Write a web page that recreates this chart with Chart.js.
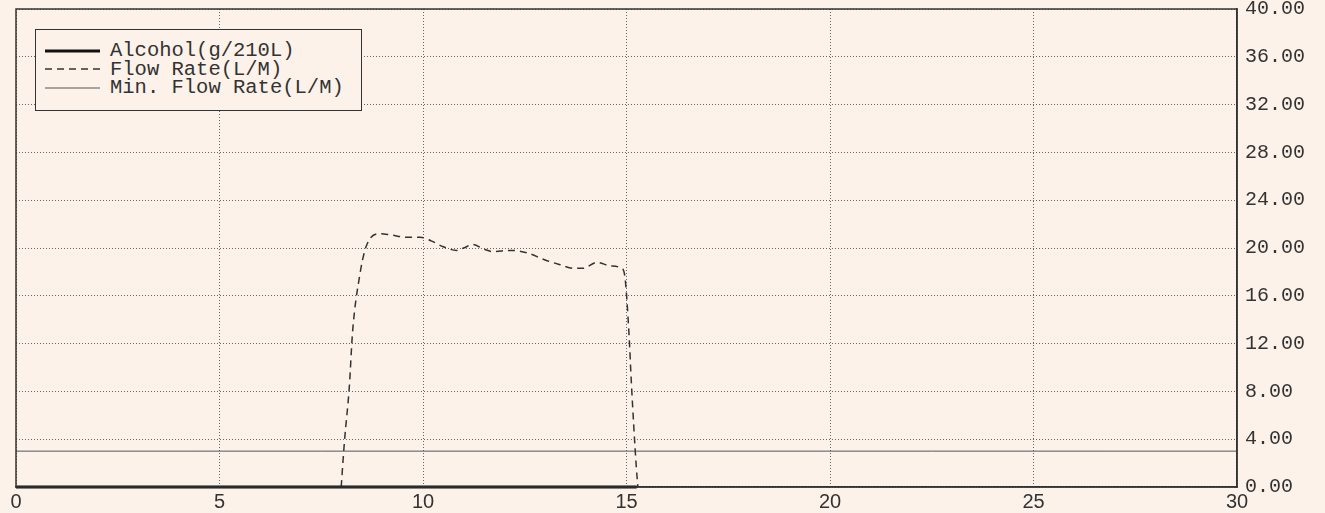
<!DOCTYPE html>
<html>
<head>
<meta charset="utf-8">
<script src="https://cdn.jsdelivr.net/npm/chart.js@4"></script>
<style>
  body { margin: 0; background: #fcf2e9; }
  #wrap { position: relative; width: 1325px; height: 513px; }
  #legend {
    position: absolute; left: 35px; top: 29px; width: 327px; height: 82px;
    box-sizing: border-box; border: 1.5px solid #333; background: #fcf2e9;
    padding: 12px 0 0 9px; font-family: "Liberation Mono", monospace;
    font-size: 20.5px; color: #333;
  }
  #legend div { height: 18.5px; line-height: 18.5px; white-space: nowrap; }
  #legend svg { vertical-align: middle; margin-right: 10px; }
</style>
</head>
<body>
<div id="wrap">
  <canvas id="c"></canvas>
  <div id="legend"></div>
</div>
<script>
// seconds
const flowX = [7.99, 8.07, 8.19, 8.27, 8.44, 8.6, 8.93, 9.2, 9.6, 9.93, 10.2, 10.5, 10.83, 11.0, 11.23, 11.5,
  11.72, 12.14, 12.55, 13.0, 13.37, 13.7, 13.93, 14.27, 14.6, 14.88, 14.96, 15.06, 15.12, 15.24, 15.28];
const flowY = [0.0, 3.8, 8.4, 13.0, 17.6, 20.1, 21.2, 21.1, 20.9, 20.9, 20.6, 20.1, 19.8, 20.0, 20.3, 19.9,
  19.7, 19.8, 19.6, 19.0, 18.6, 18.3, 18.3, 18.8, 18.5, 18.3, 17.6, 12.9, 8.7, 1.7, 0.0];

const alcoholX = [0, 15.25];
const alcoholY = [0, 0];

const minFlowX = [0, 30];
const minFlowY = [3, 3];

const xTicks = [0, 5, 10, 15, 20, 25, 30];
const yTicks = [0, 4, 8, 12, 16, 20, 24, 28, 32, 36, 40];

const pts = (xs, ys) => xs.map((x, i) => ({ x: x, y: ys[i] }));

const frame = {
  id: 'frame',
  afterDraw(chart) {
    const { ctx, chartArea: a } = chart;
    ctx.save();
    ctx.strokeStyle = '#333';
    ctx.lineWidth = 1.5;
    ctx.strokeRect(a.left, a.top, a.right - a.left, a.bottom - a.top);
    ctx.restore();
  }
};

const ctx = document.getElementById('c');
const chart = new Chart(ctx, {
  type: 'line',
  data: {
    datasets: [
      {
        label: 'Alcohol(g/210L)',
        data: pts(alcoholX, alcoholY),
        borderColor: '#111',
        borderWidth: 3,
        pointRadius: 0,
        clip: false
      },
      {
        label: 'Flow Rate(L/M)',
        data: pts(flowX, flowY),
        borderColor: '#333',
        borderWidth: 1.5,
        borderDash: [7, 5],
        pointRadius: 0,
        cubicInterpolationMode: 'monotone'
      },
      {
        label: 'Min. Flow Rate(L/M)',
        data: pts(minFlowX, minFlowY),
        borderColor: '#555',
        borderWidth: 1,
        pointRadius: 0
      }
    ]
  },
  options: {
    responsive: true,
    maintainAspectRatio: false,
    animation: false,
    layout: { padding: { left: 16, top: 9, right: 0, bottom: 0 } },
    plugins: { legend: { display: false }, tooltip: { enabled: false } },
    scales: {
      x: {
        type: 'linear', min: 0, max: 30,
        afterBuildTicks: (s) => { s.ticks = xTicks.map(v => ({ value: v })); },
        afterFit: (s) => { s.height = 26; s.paddingLeft = 0; s.paddingRight = 0; },
        ticks: {
          padding: 3, color: '#333',
          font: { family: 'Liberation Sans', size: 20 }
        },
        grid: { drawTicks: false, color: '#666', lineWidth: 1 },
        border: { display: true, color: '#333', width: 1.5, dash: [1, 2] }
      },
      y: {
        position: 'right', min: 0, max: 40,
        afterBuildTicks: (s) => { s.ticks = yTicks.map(v => ({ value: v })); },
        afterFit: (s) => { s.width = 88; s.paddingTop = 0; s.paddingBottom = 0; },
        ticks: {
          padding: 8, color: '#333',
          font: { family: 'Liberation Mono', size: 20 },
          callback: (v) => Number(v).toFixed(2)
        },
        grid: { drawTicks: false, color: '#666', lineWidth: 1 },
        border: { display: true, color: '#333', width: 1.5, dash: [1, 2] }
      }
    }
  },
  plugins: [frame]
});

// legend built from the datasets
const legend = document.getElementById('legend');
chart.data.datasets.forEach(ds => {
  const row = document.createElement('div');
  const dash = ds.borderDash ? ds.borderDash.join(' ') : 'none';
  row.innerHTML = '<svg width="55" height="6"><line x1="0" y1="3" x2="55" y2="3" stroke="' + ds.borderColor +
    '" stroke-width="' + ds.borderWidth + '" stroke-dasharray="' + dash + '"/></svg>';
  row.appendChild(document.createTextNode(ds.label));
  legend.appendChild(row);
});
</script>
</body>
</html>
